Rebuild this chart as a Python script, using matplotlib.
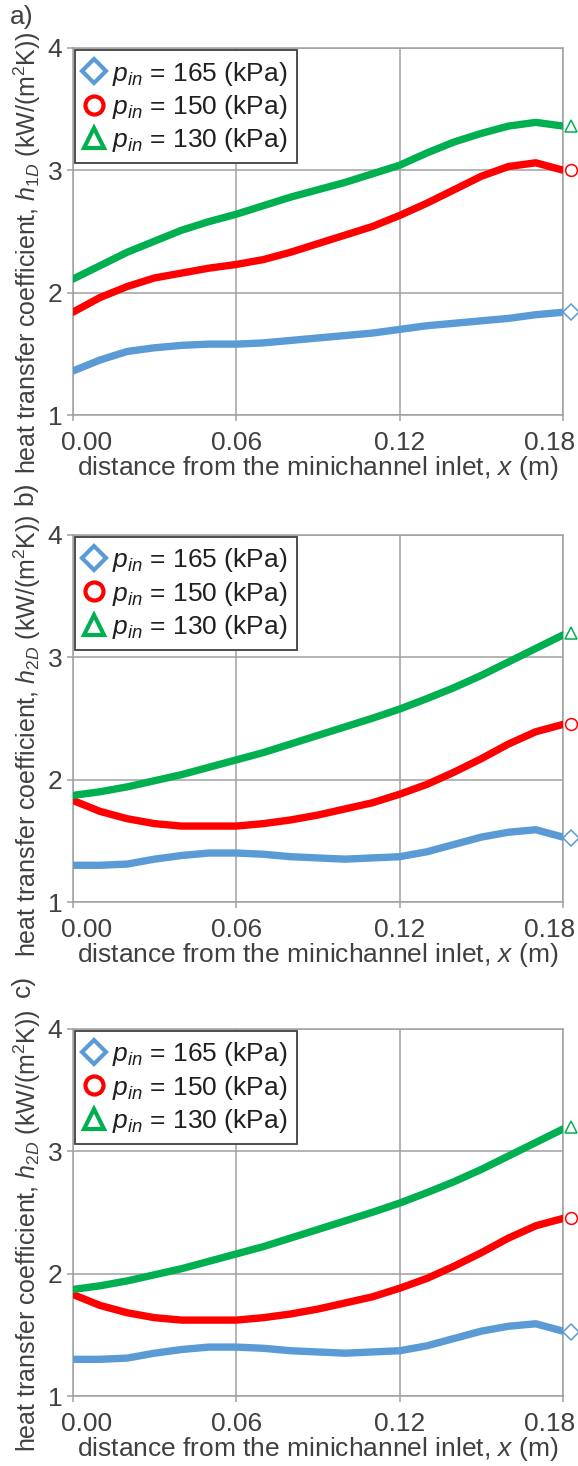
import matplotlib
matplotlib.use('Agg')
import matplotlib.pyplot as plt
from matplotlib.lines import Line2D
from matplotlib.transforms import ScaledTranslation

plt.rcParams['font.family'] = ['Liberation Sans', 'DejaVu Sans']
plt.rcParams['mathtext.fontset'] = 'custom'
plt.rcParams['mathtext.rm'] = 'Liberation Sans'
plt.rcParams['mathtext.it'] = 'Liberation Sans:italic'

# distance from inlet (m)
x = [0.00, 0.01, 0.02, 0.03, 0.04, 0.05, 0.06, 0.07, 0.08, 0.09,
     0.10, 0.11, 0.12, 0.13, 0.14, 0.15, 0.16, 0.17, 0.18]

# a) h1D (kW/(m2K))
h1d_165 = [1.36, 1.45, 1.52, 1.55, 1.57, 1.58, 1.58, 1.59, 1.61, 1.63,
           1.65, 1.67, 1.70, 1.73, 1.75, 1.77, 1.79, 1.82, 1.84]
h1d_150 = [1.84, 1.96, 2.05, 2.12, 2.16, 2.20, 2.23, 2.27, 2.33, 2.40,
           2.47, 2.54, 2.63, 2.73, 2.84, 2.95, 3.03, 3.06, 3.00]
h1d_130 = [2.11, 2.22, 2.33, 2.42, 2.51, 2.58, 2.64, 2.71, 2.78, 2.84,
           2.90, 2.97, 3.04, 3.14, 3.23, 3.30, 3.36, 3.39, 3.36]

# b) and c) h2D (kW/(m2K))
h2d_165 = [1.30, 1.30, 1.31, 1.35, 1.38, 1.40, 1.40, 1.39, 1.37, 1.36,
           1.35, 1.36, 1.37, 1.41, 1.47, 1.53, 1.57, 1.59, 1.53]
h2d_150 = [1.83, 1.74, 1.68, 1.64, 1.62, 1.62, 1.62, 1.64, 1.67, 1.71,
           1.76, 1.81, 1.88, 1.96, 2.06, 2.17, 2.29, 2.39, 2.45]
h2d_130 = [1.87, 1.90, 1.94, 1.99, 2.04, 2.10, 2.16, 2.22, 2.29, 2.36,
           2.43, 2.50, 2.575, 2.66, 2.75, 2.85, 2.96, 3.07, 3.18]

# single end-point markers just past the last point
x_end = 0.183
end_1d = [1.84, 3.00, 3.36]
end_2d = [1.52, 2.45, 3.20]

labels = [r'$p_{in}$ = 165 (kPa)', r'$p_{in}$ = 150 (kPa)', r'$p_{in}$ = 130 (kPa)']
xticks = [0.00, 0.06, 0.12, 0.18]
xticklabels = ['0.00', '0.06', '0.12', '0.18']
yticks = [1, 2, 3, 4]

BLUE = '#5B9BD5'
RED = '#FF0000'
GREEN = '#00B050'
GRID = '#A0A0A0'
TXT = '#404040'
FS = 19

fig = plt.figure(figsize=(5.78, 14.66), dpi=100)


def drawPanel(bottom, series, ends, hname, labely):
    ax = fig.add_axes([0.1258, bottom, 0.8483, 0.2507])
    colors = [BLUE, RED, GREEN]
    markers = ['D', 'o', '^']
    sizes = [8, 8.5, 8.5]
    for ys, c in zip(series, colors):
        ax.plot(x, ys, color=c, lw=5.3, solid_capstyle='round',
                solid_joinstyle='round', zorder=3)
    for v, c, m, s in zip(ends, colors, markers, sizes):
        ax.plot([x_end], [v], ls='none', marker=m, ms=s, mfc='none', mec=c,
                mew=1.1, clip_on=False, zorder=4)

    ax.set_xlim(0, 0.18)
    ax.set_ylim(1, 4)
    ax.set_xticks(xticks)
    ax.set_xticklabels(xticklabels)
    ax.set_yticks(yticks)
    ax.grid(color=GRID, lw=1.1)
    ax.set_axisbelow(True)
    for sp in ax.spines.values():
        sp.set_color(GRID)
        sp.set_linewidth(1.1)
    ax.tick_params(direction='out', length=4.5, width=1.1, color=GRID,
                   labelsize=FS, labelcolor=TXT)
    ax.tick_params(axis='x', pad=7)
    ax.tick_params(axis='y', pad=3)

    tl = ax.get_xticklabels()
    tl[0].set_transform(tl[0].get_transform() + ScaledTranslation(0.14, 0, fig.dpi_scale_trans))
    tl[-1].set_transform(tl[-1].get_transform() + ScaledTranslation(-0.13, 0, fig.dpi_scale_trans))

    ax.set_xlabel('distance from the minichannel inlet, $x$ (m)', fontsize=FS, color=TXT)
    ax.xaxis.set_label_coords(0.5, -0.105)
    ax.set_ylabel('heat transfer coefficient, $h_{' + hname + '}$ (kW/(m$^2$K))',
                  fontsize=18, color=TXT)
    ax.yaxis.set_label_coords(-0.06, labely)

    handles = [
        Line2D([], [], ls='none', marker='D', ms=12, mfc='none', mec=BLUE, mew=3),
        Line2D([], [], ls='none', marker='o', ms=13, mfc='none', mec=RED, mew=3),
        Line2D([], [], ls='none', marker='^', ms=15, mfc='none', mec=GREEN, mew=3),
    ]
    leg = ax.legend(handles, labels, loc='upper left', borderaxespad=0.1,
                    fontsize=FS, labelspacing=0.2, borderpad=0.35,
                    handlelength=0.7, handletextpad=0.35, fancybox=False,
                    framealpha=1, edgecolor=TXT)
    leg.get_frame().set_linewidth(1.3)
    for t in leg.get_texts():
        t.set_color('#202020')
    return ax


drawPanel(0.7168, [h1d_165, h1d_150, h1d_130], end_1d, '1D', 0.441)
drawPanel(0.3847, [h2d_165, h2d_150, h2d_130], end_2d, '2D', 0.452)
drawPanel(0.0477, [h2d_165, h2d_150, h2d_130], end_2d, '2D', 0.449)

# panel letters: a) upright at the top, b) and c) rotated between the y labels
fig.text(22 / 578, 1 - 17 / 1466, 'a)', fontsize=FS, color=TXT, ha='center', va='center')
fig.text(25 / 578, 1 - 493 / 1466, 'b)', fontsize=FS, color=TXT, ha='center', va='center',
         rotation=90)
fig.text(23 / 578, 1 - 986 / 1466, 'c)', fontsize=FS, color=TXT, ha='center', va='center',
         rotation=90)

fig.savefig('out.png', dpi=100)
